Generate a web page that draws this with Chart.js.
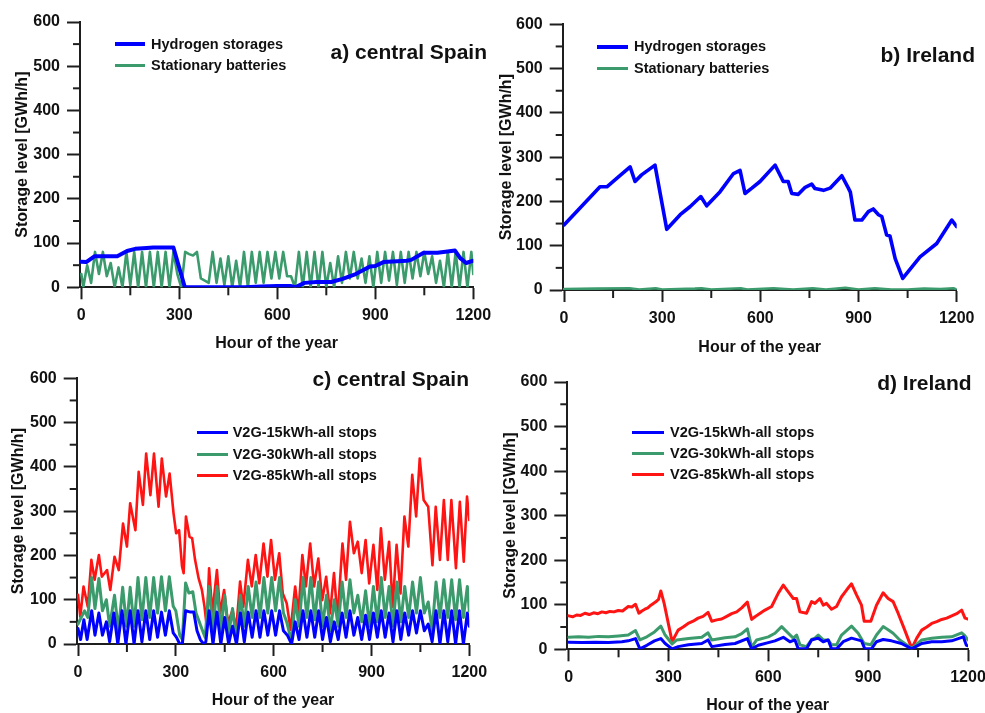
<!DOCTYPE html>
<html><head><meta charset="utf-8">
<script src="https://cdn.jsdelivr.net/npm/chart.js@4.4.1/dist/chart.umd.min.js"></script>
<style>
html,body{margin:0;padding:0;background:#fff;overflow:hidden}
#wrap{position:relative;width:985px;height:713px;overflow:hidden;background:#fff}
canvas{position:absolute}
.ttl{position:absolute;font-family:"Liberation Sans",Arial,sans-serif;font-weight:bold;font-size:21px;line-height:21px;color:#111;white-space:nowrap}
.lg{position:absolute;font-family:"Liberation Sans",Arial,sans-serif;font-weight:bold;font-size:14.5px;line-height:15px;color:#111;white-space:nowrap}
.sw{position:absolute}
</style></head><body><div id="wrap"></div>
<script>
// ---------- DATA ----------
// Tick labels
const xTickValues = [0, 300, 600, 900, 1200];
const xMinorValues = [150, 450, 750, 1050];
const yTickValues = [0, 100, 200, 300, 400, 500, 600];
const yMinorValues = [50, 150, 250, 350, 450, 550];

// a) central Spain
const hoursH2A = [0,15,40,110,140,165,200,220,282,317,400,500,550,600,640,655,683,720,765,800,840,884,900,925,996,1010,1048,1090,1121,1144,1160,1178,1198,1200];
const h2A      = [58,57,70,70,82,87,89,90,90,0,0,0,2,3,3,0,10,12,12,19,30,47,48,57,60,62,78,78,81,83,66,55,60,60];
const hoursBatA = [0,6,18,30,42,54,66,78,90,102,114,126,138,150,162,174,186,198,210,222,234,246,258,270,282,294,306,318,330,342,354,366,378,390,402,414,426,438,450,462,474,486,498,510,522,534,546,558,570,582,594,606,618,630,642,654,666,678,690,702,714,726,738,750,762,774,786,798,810,822,834,846,858,870,882,894,906,918,930,942,954,966,978,990,1002,1014,1026,1038,1050,1062,1074,1086,1098,1110,1122,1134,1146,1158,1170,1182,1194,1200];
const batA      = [30,0,50,10,80,30,80,25,55,0,45,0,80,5,80,0,80,0,80,0,80,0,80,0,80,30,0,80,75,72,80,20,15,10,80,10,65,5,70,0,60,0,80,0,80,10,80,10,80,20,80,20,80,25,25,0,80,0,80,0,80,0,80,0,55,0,70,10,80,20,80,20,65,10,70,0,80,10,80,15,80,5,80,10,80,20,80,25,80,30,70,10,60,0,80,0,80,0,80,0,80,30];

// b) Ireland
const hoursH2B = [0,110,131,161,202,217,237,278,314,355,385,418,436,477,518,538,553,574,599,645,670,685,696,716,737,757,767,793,813,849,869,875,889,910,930,945,961,971,986,996,1012,1035,1088,1139,1185,1200];
const h2B      = [147,233,233,252,278,245,260,282,137,170,188,211,190,222,263,270,218,230,245,282,245,245,218,216,232,239,229,225,230,258,230,221,158,158,177,183,170,166,124,122,71,26,75,105,158,143];
const hoursBatB = [0,100,200,230,280,300,400,420,450,540,560,640,700,760,800,860,900,950,1000,1050,1100,1150,1190,1200];
const batB      = [2,3,4,1,4,1,3,4,1,4,1,4,1,4,1,5,1,4,1,1,3,2,4,1];

// c) central Spain (V2G)
const hoursV85C = [0,7,17,30,41,51,64,73,89,99,112,125,138,150,160,176,186,199,209,222,233,247,257,270,281,293,301,310,319,324,331,342,350,359,370,380,388,395,402,412,426,436,448,460,474,485,497,507,521,533,545,556,569,581,592,604,617,628,640,652,666,676,688,699,712,724,737,749,761,773,785,796,811,822,834,846,858,870,882,893,906,918,929,941,954,965,977,989,1001,1013,1025,1037,1048,1060,1074,1087,1097,1110,1122,1134,1145,1159,1171,1183,1193,1200];
const v85C      = [111,62,130,84,190,145,201,152,167,122,197,167,272,220,318,257,389,314,430,336,430,310,419,333,385,295,250,257,175,160,288,242,239,190,148,122,84,39,171,69,167,69,122,47,77,32,141,84,190,130,201,137,227,152,235,145,205,114,92,32,130,69,201,130,227,130,193,99,152,69,160,58,227,145,276,205,231,160,235,137,224,122,261,145,231,84,224,114,288,220,382,288,419,325,310,178,310,190,325,190,325,171,321,186,333,280];
const hoursV30C = [0,10,20,30,42,52,64,75,87,97,112,124,137,149,160,172,184,196,208,220,232,244,256,268,280,292,300,312,320,330,340,352,362,372,382,390,402,414,426,438,450,462,474,486,498,510,522,534,546,558,570,582,594,606,618,630,640,655,666,678,690,702,714,726,738,750,762,774,786,798,810,822,834,846,858,870,882,894,906,918,930,942,954,966,978,990,1002,1014,1026,1038,1050,1062,1074,1086,1098,1110,1122,1134,1146,1158,1170,1182,1194,1200];
const v30C      = [45,60,75,60,150,80,148,75,100,40,110,30,128,40,128,40,150,55,150,60,150,70,152,75,152,85,75,20,10,138,115,118,70,50,30,15,130,30,130,30,110,20,80,5,110,40,130,60,140,60,150,70,150,75,150,70,50,5,100,40,150,60,150,55,140,40,110,30,100,40,140,60,145,70,110,50,120,40,130,50,150,60,130,40,140,50,130,60,140,70,150,70,95,30,140,60,145,60,145,55,145,60,130,75];
const hoursV15C = [0,8,18,28,42,52,64,75,87,97,110,122,135,147,160,172,184,196,208,220,232,244,256,268,280,292,302,312,320,330,345,355,365,375,385,392,402,414,426,438,450,462,474,486,498,510,522,534,546,558,570,582,594,606,618,630,642,655,666,678,690,702,714,726,738,750,762,774,786,798,810,822,834,846,858,870,882,894,906,918,930,942,954,966,978,990,1002,1014,1026,1038,1050,1062,1074,1086,1098,1110,1122,1134,1146,1158,1170,1182,1194,1200];
const v15C      = [35,10,55,10,75,20,70,20,50,5,70,0,75,0,75,0,75,5,75,10,75,15,72,20,75,25,15,0,0,75,72,72,30,10,0,5,75,0,72,0,60,0,40,0,70,5,72,15,75,15,75,20,75,20,75,30,20,0,50,10,75,15,75,15,75,10,60,5,50,10,70,15,75,20,60,10,65,10,70,15,75,15,70,5,75,10,70,20,75,25,75,30,45,5,75,0,75,5,75,0,75,0,70,40];

// d) Ireland (V2G)
const hoursV85D = [0,12,24,36,49,62,75,88,100,112,124,136,149,162,179,190,201,211,220,229,238,247,261,270,277,287,311,320,329,344,359,374,389,404,419,430,445,460,475,490,505,520,537,550,560,570,590,610,630,645,660,675,685,695,715,730,740,755,765,775,790,805,820,835,850,865,880,888,908,925,945,960,975,990,1010,1031,1046,1061,1076,1091,1106,1121,1136,1151,1166,1181,1191,1200];
const v85D      = [75,73,77,76,81,78,82,80,84,82,85,84,87,86,96,95,101,81,86,90,93,99,106,112,131,103,17,30,43,50,58,63,70,74,83,63,66,68,74,80,84,93,106,67,73,78,88,96,126,144,129,114,114,84,81,107,103,114,99,103,90,96,118,133,147,122,99,63,63,99,127,114,107,81,43,2,25,43,50,58,62,67,70,75,80,88,70,68];
const hoursV30D = [0,30,60,90,120,150,179,201,214,235,258,277,290,311,325,360,400,419,430,470,500,520,537,550,565,600,620,640,660,675,685,695,715,730,740,750,765,780,790,805,820,850,870,888,908,925,945,960,975,995,1031,1061,1091,1121,1151,1181,1191,1200];
const v30D      = [27,28,27,29,28,30,32,42,21,28,39,52,32,12,21,24,27,37,21,26,28,35,46,5,21,28,36,51,36,25,32,10,6,22,25,32,21,21,10,10,32,52,36,13,10,32,51,44,36,21,2,21,25,27,28,37,30,21];
const hoursV15D = [0,40,80,120,160,179,201,214,235,258,277,290,311,329,360,400,419,430,470,500,537,550,570,600,620,645,665,680,690,715,730,750,765,780,790,805,825,850,880,890,910,925,945,970,1000,1031,1061,1091,1121,1151,1186,1195,1200];
const v15D      = [16,15,16,15,17,19,24,1,9,19,24,13,1,6,10,13,21,6,11,13,24,1,9,15,19,27,17,21,1,1,21,25,17,21,1,1,17,25,19,1,1,17,22,19,13,1,13,17,17,19,28,9,8];

// ---------- STYLE / LAYOUT ----------
const FONT = '"Liberation Sans", Arial, sans-serif';
const AXIS = '#1e1e1e';
const TEXT = '#111111';
const BLUE = '#0000ff', GREEN = '#3b9b6c', RED = '#ff1414';

function pts(h, v) { return h.map((x, i) => ({ x: x, y: v[i] })); }

const panels = [
  { left:0, top:0, W:492, H:358, area:{L:80, T:22, R:473.3, B:287.3}, yTitleX:23, xTitleY:344,
    title:'a) central Spain', titleRight:487, titleY:51.7,
    legend:{x1:115, x2:145, textX:151, ys:[44.3, 65.3]},
    series:[
      {label:'Hydrogen storages', h:hoursH2A, v:h2A, color:BLUE, width:4, lw:4},
      {label:'Stationary batteries', h:hoursBatA, v:batA, color:GREEN, width:2.6, lw:2.8}] },
  { left:492, top:0, W:493, H:362, area:{L:562.7, T:24.3, R:956.7, B:290}, yTitleX:507, xTitleY:347.7,
    title:'b) Ireland', titleRight:975, titleY:54,
    legend:{x1:597.3, x2:628.3, textX:634, ys:[46.7, 68.3]},
    series:[
      {label:'Hydrogen storages', h:hoursH2B, v:h2B, color:BLUE, width:3.6, lw:4},
      {label:'Stationary batteries', h:hoursBatB, v:batB, color:GREEN, width:2.6, lw:2.8}] },
  { left:0, top:356, W:492, H:358, area:{L:76.7, T:378.3, R:469.3, B:644}, yTitleX:18.3, xTitleY:700.7,
    title:'c) central Spain', titleRight:469, titleY:378.3,
    legend:{x1:196.7, x2:227.7, textX:232.7, ys:[432.7, 454.3, 475.7]},
    series:[
      {label:'V2G-15kWh-all stops', h:hoursV15C, v:v15C, color:BLUE, width:3, lw:3.4},
      {label:'V2G-30kWh-all stops', h:hoursV30C, v:v30C, color:GREEN, width:3, lw:3},
      {label:'V2G-85kWh-all stops', h:hoursV85C, v:v85C, color:RED, width:2.6, lw:2.6}] },
  { left:492, top:356, W:493, H:364, area:{L:567.3, T:382, R:968, B:649.3}, yTitleX:510.7, xTitleY:706,
    title:'d) Ireland', titleRight:971.7, titleY:382.7,
    legend:{x1:631.7, x2:664, textX:670, ys:[432.7, 453.3, 474.3]},
    series:[
      {label:'V2G-15kWh-all stops', h:hoursV15D, v:v15D, color:BLUE, width:3, lw:3.4},
      {label:'V2G-30kWh-all stops', h:hoursV30D, v:v30D, color:GREEN, width:3, lw:3},
      {label:'V2G-85kWh-all stops', h:hoursV85D, v:v85D, color:RED, width:3, lw:2.6}] }
];

const minorTicks = {
  id: 'minorTicks',
  afterDraw(chart) {
    const ctx = chart.ctx, xs = chart.scales.x, ys = chart.scales.y;
    ctx.save();
    ctx.strokeStyle = AXIS; ctx.lineWidth = 2;
    xMinorValues.forEach(v => {
      const p = xs.getPixelForValue(v);
      ctx.beginPath(); ctx.moveTo(p, xs.top); ctx.lineTo(p, xs.top + 8); ctx.stroke();
    });
    yMinorValues.forEach(v => {
      const p = ys.getPixelForValue(v);
      ctx.beginPath(); ctx.moveTo(ys.right, p); ctx.lineTo(ys.right - 7, p); ctx.stroke();
    });
    ctx.restore();
  }
};

const wrap = document.getElementById('wrap');
const tickFont = { family: FONT, size: 16, weight: 'bold' };

panels.forEach(P => {
  const cv = document.createElement('canvas');
  cv.width = P.W; cv.height = P.H;
  cv.style.left = P.left + 'px'; cv.style.top = P.top + 'px';
  cv.style.width = P.W + 'px'; cv.style.height = P.H + 'px';
  wrap.appendChild(cv);

  const aL = P.area.L - P.left, aR = P.area.R - P.left, aT = P.area.T - P.top, aB = P.area.B - P.top;
  const xTitlePad = P.H - (P.xTitleY - P.top) - 9.6;
  const yTitlePad = (P.yTitleX - P.left) - 9.6;

  new Chart(cv, {
    type: 'line',
    data: {
      datasets: P.series.map(s => ({
        label: s.label, data: pts(s.h, s.v), borderColor: s.color, backgroundColor: s.color,
        borderWidth: s.width, pointRadius: 0, tension: 0, fill: false,
        borderJoinStyle: 'round', borderCapStyle: 'round'
      }))
    },
    options: {
      responsive: false, animation: false,
      layout: { autoPadding: false, padding: { left: 0, top: aT, right: P.W - aR, bottom: 0 } },
      plugins: { legend: { display: false }, tooltip: { enabled: false }, title: { display: false } },
      scales: {
        x: {
          type: 'linear', min: -4, max: 1200,
          afterBuildTicks: s => { s.ticks = xTickValues.map(v => ({ value: v })); },
          afterFit: s => { s.height = P.H - aB; s.paddingLeft = 0; s.paddingRight = 0; },
          grid: { drawOnChartArea: false, drawTicks: true, tickLength: 12, tickWidth: 2, tickColor: AXIS },
          border: { display: true, color: AXIS, width: 2 },
          ticks: { autoSkip: false, maxRotation: 0, minRotation: 0, padding: 7, color: TEXT, font: tickFont,
                   callback: v => String(v) },
          title: { display: true, text: 'Hour of the year', color: TEXT, font: tickFont,
                   padding: { top: 0, bottom: xTitlePad } }
        },
        y: {
          type: 'linear', min: 0, max: 600,
          afterBuildTicks: s => { s.ticks = yTickValues.map(v => ({ value: v })); },
          afterFit: s => { s.width = aL; s.paddingTop = 0; s.paddingBottom = 0; },
          grid: { drawOnChartArea: false, drawTicks: true, tickLength: 13, tickWidth: 2, tickColor: AXIS },
          border: { display: true, color: AXIS, width: 2 },
          ticks: { autoSkip: false, padding: 7, color: TEXT, font: tickFont, callback: v => String(v) },
          title: { display: true, text: 'Storage level [GWh/h]', color: TEXT, font: tickFont,
                   padding: { top: yTitlePad, bottom: 0 } }
        }
      }
    },
    plugins: [minorTicks]
  });

  // panel title
  const t = document.createElement('div');
  t.className = 'ttl'; t.textContent = P.title;
  t.style.right = (985 - P.titleRight) + 'px';
  t.style.top = (P.titleY - 10.3) + 'px';
  wrap.appendChild(t);

  // legend
  P.series.forEach((s, i) => {
    const y = P.legend.ys[i];
    const sw = document.createElement('div');
    sw.className = 'sw';
    sw.style.left = P.legend.x1 + 'px'; sw.style.width = (P.legend.x2 - P.legend.x1) + 'px';
    sw.style.top = (y - s.lw / 2) + 'px'; sw.style.height = s.lw + 'px';
    sw.style.background = s.color;
    wrap.appendChild(sw);
    const tx = document.createElement('div');
    tx.className = 'lg'; tx.textContent = s.label;
    tx.style.left = P.legend.textX + 'px'; tx.style.top = (y - 7.3) + 'px';
    wrap.appendChild(tx);
  });
});
</script></body></html>
